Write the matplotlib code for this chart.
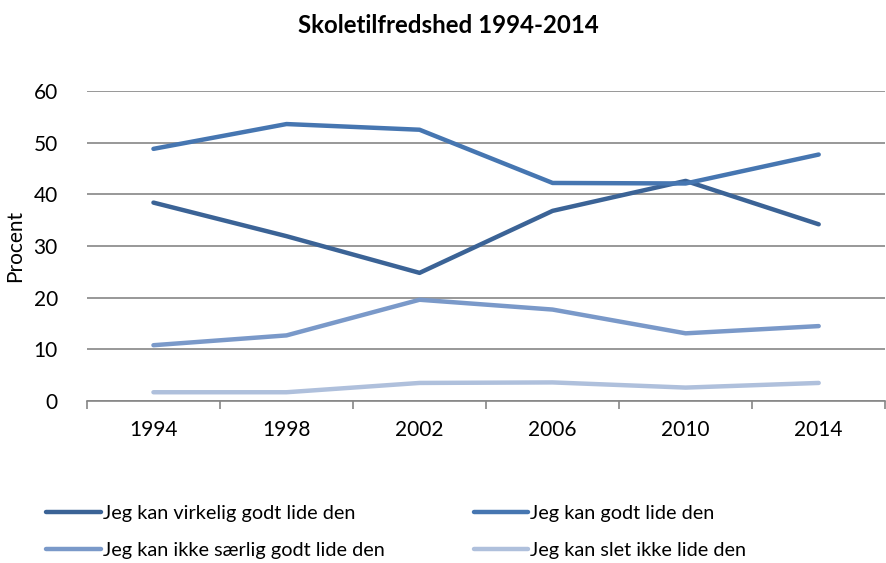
import matplotlib
matplotlib.use("Agg")
import matplotlib.pyplot as plt
import numpy as np

plt.rcParams['font.family'] = ['Lato', 'DejaVu Sans']

years = ['1994', '1998', '2002', '2006', '2010', '2014']
virkelig_godt = [38.4, 31.9, 24.8, 36.8, 42.6, 34.2]
godt = [48.8, 53.6, 52.5, 42.2, 42.1, 47.7]
ikke_saerlig = [10.8, 12.7, 19.6, 17.7, 13.1, 14.5]
slet_ikke = [1.7, 1.7, 3.5, 3.6, 2.6, 3.5]

labels = ['Jeg kan virkelig godt lide den', 'Jeg kan godt lide den',
          'Jeg kan ikke særlig godt lide den', 'Jeg kan slet ikke lide den']
colors = ['#3b6396', '#4676b1', '#7a99c9', '#afc0dc']

fig = plt.figure(figsize=(8.87, 5.63), dpi=100)
ax = fig.add_axes([0.098, 0.2877, 0.9, 0.5507])

x = np.arange(len(years))
series = [virkelig_godt, godt, ikke_saerlig, slet_ikke]
lines = []
for vals, lab, c in zip(series, labels, colors):
    ln, = ax.plot(x, vals, color=c, lw=3.2, label=lab, solid_capstyle='round',
                  solid_joinstyle='round')
    lines.append(ln)

ax.set_xlim(-0.5, len(years) - 0.5)
ax.set_ylim(0, 60)
ax.set_yticks(range(0, 61, 10))
ax.yaxis.grid(True, color='#868686', lw=1.2)
ax.set_axisbelow(True)

ax.set_xticks(x)
ax.set_xticklabels(years, fontsize=15)
ax.set_xticks(np.arange(-0.5, len(years), 1), minor=True)
ax.tick_params(axis='x', which='major', length=0, pad=14)
ax.tick_params(axis='x', which='minor', length=6, color='#868686', width=1.2)
ax.tick_params(axis='y', length=0, labelsize=15, pad=21)

for s in ['top', 'right', 'left']:
    ax.spines[s].set_visible(False)
ax.spines['bottom'].set_color('#868686')
ax.spines['bottom'].set_linewidth(1.2)

ax.set_ylabel('Procent', fontsize=15, labelpad=6)
fig.suptitle('Skoletilfredshed 1994-2014', fontsize=17.3, fontweight='bold',
             x=0.505, y=0.975)

# row order: virkelig | godt, ikke saerlig | slet
order = [0, 2, 1, 3]
fig.legend([lines[i] for i in order], [labels[i] for i in order],
           loc='upper left', bbox_to_anchor=(0.043, 0.118), ncol=2,
           frameon=False, fontsize=14.3, handlelength=2.75, handletextpad=0.1,
           columnspacing=4.5, labelspacing=1.05, borderaxespad=0)

fig.savefig('out.png', dpi=100)
